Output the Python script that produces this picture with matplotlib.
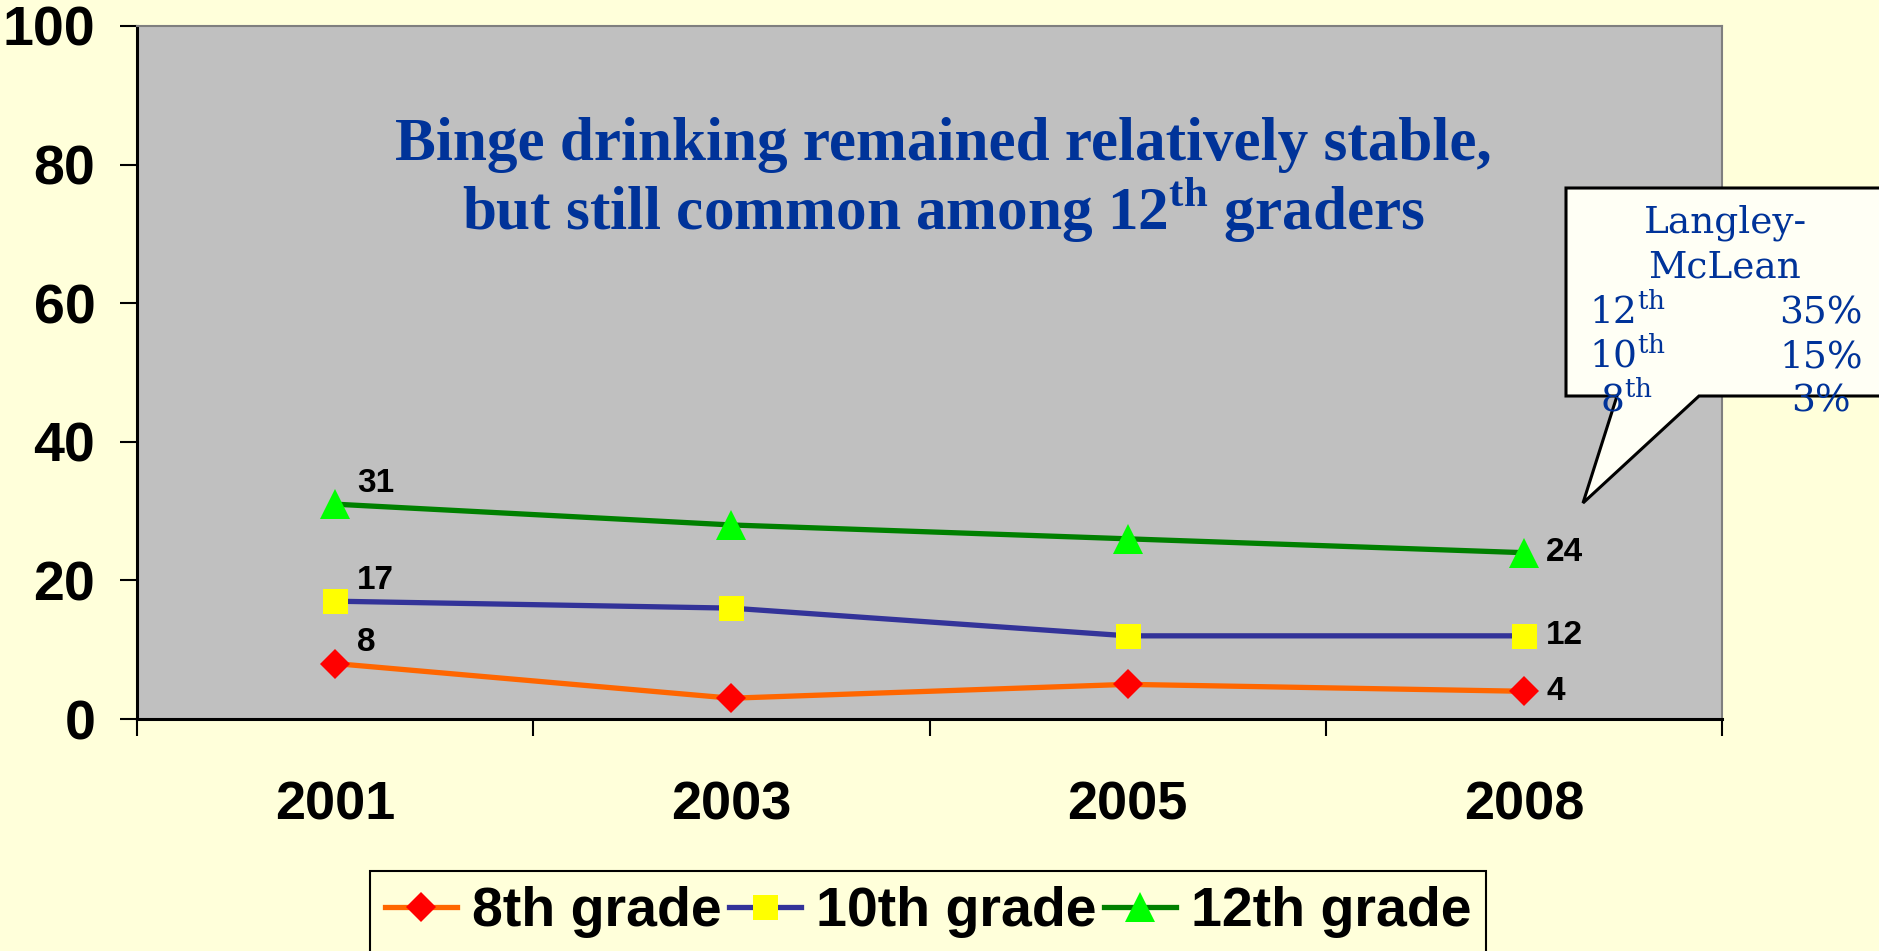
import matplotlib
matplotlib.use("Agg")
import matplotlib.pyplot as plt
from matplotlib.patches import Polygon

plt.rcParams["font.family"] = ["Liberation Sans", "DejaVu Sans"]
plt.rcParams["mathtext.fontset"] = "custom"
plt.rcParams["mathtext.rm"] = "DejaVu Serif"
plt.rcParams["mathtext.bf"] = "Liberation Serif:bold"

# ---- data ----
YEARS = ["2001", "2003", "2005", "2008"]
GRADE_8 = [8, 3, 5, 4]
GRADE_10 = [17, 16, 12, 12]
GRADE_12 = [31, 28, 26, 24]
SERIES_NAMES = ["8th grade", "10th grade", "12th grade"]

CALLOUT_GRADES = ["12$^{\\mathrm{th}}$", "10$^{\\mathrm{th}}$", "8$^{\\mathrm{th}}$"]
CALLOUT_PCT = ["35%", "15%", "3%"]

BG = "#FFFFDA"
PLOT_BG = "#C0C0C0"
BLUE_TXT = "#003399"
LINE_COLORS = ["#FF6600", "#333399", "#008000"]
MARKER_COLORS = ["#FF0000", "#FFFF00", "#00FF00"]
MARKERS = ["D", "s", "^"]
MSIZES = [15, 18, 22]

W, H = 1879, 951
fig = plt.figure(figsize=(W / 100, H / 100), dpi=100, facecolor=BG)
ax = fig.add_axes([137 / W, 1 - 719 / H, (1722 - 137) / W, (719 - 26) / H])
ax.set_facecolor(PLOT_BG)

x = [i + 0.5 for i in range(len(YEARS))]
for vals, name, lc, mc, m, ms in zip([GRADE_8, GRADE_10, GRADE_12], SERIES_NAMES,
                                     LINE_COLORS, MARKER_COLORS, MARKERS, MSIZES):
    ax.plot(x, vals, color=lc, lw=3.8, marker=m, markersize=ms,
            markerfacecolor=mc, markeredgewidth=0, label=name, zorder=3)
    # value labels only on first and last year
    ax.annotate(str(vals[0]), (x[0], vals[0]), xytext=(16, 4), textcoords="offset points",
                ha="left", va="bottom", fontsize=24, fontweight="bold")
    ax.annotate(str(vals[-1]), (x[-1], vals[-1]), xytext=(16, 0), textcoords="offset points",
                ha="left", va="center", fontsize=24, fontweight="bold")

ax.set_xlim(0, len(YEARS))
ax.set_ylim(0, 100)
ax.set_yticks(range(0, 101, 20))
ax.set_xticks(x)
ax.set_xticklabels(YEARS)
ax.set_xticks(range(len(YEARS) + 1), minor=True)
ax.tick_params(axis="y", direction="out", length=12, width=1.5, pad=18,
               labelsize=40)
ax.tick_params(axis="x", which="major", length=0, pad=44, labelsize=39)
ax.tick_params(axis="x", which="minor", direction="out", length=12, width=1.5)
for lab in ax.get_xticklabels() + ax.get_yticklabels():
    lab.set_fontweight("bold")

for s in ["left", "bottom"]:
    ax.spines[s].set_color("black")
    ax.spines[s].set_linewidth(2.2)
for s in ["top", "right"]:
    ax.spines[s].set_color("#7f7f7f")
    ax.spines[s].set_linewidth(1.5)

# title inside the plot
ax.text(0.509, 0.8066, "Binge drinking remained relatively stable,", transform=ax.transAxes,
        ha="center", va="baseline", fontsize=44, fontweight="bold", color=BLUE_TXT,
        family="Liberation Serif")
ax.text(0.509, 0.7060, "but still common among 12$^{\\mathbf{th}}$ graders", transform=ax.transAxes,
        ha="center", va="baseline", fontsize=44, fontweight="bold", color=BLUE_TXT,
        family="Liberation Serif")

leg = fig.legend(loc="upper center", bbox_to_anchor=(928 / W, 1 - 871 / H), ncol=3,
                 prop={"weight": "bold", "size": 40}, frameon=True,
                 fancybox=False, edgecolor="black", facecolor=BG, framealpha=1,
                 handlelength=1.3, handletextpad=0.26, columnspacing=0.14,
                 borderpad=0.27, borderaxespad=0)
leg.get_frame().set_linewidth(1.5)


# callout bubble (figure pixel coords)
def fp(px, py):
    return (px / W, 1 - py / H)


bubble = [fp(1566, 188), fp(1900, 188), fp(1900, 396), fp(1699, 396),
          fp(1583, 503), fp(1617, 396), fp(1566, 396)]
fig.add_artist(Polygon(bubble, closed=True, transform=fig.transFigure,
                       facecolor="#FFFFF5", edgecolor="black", lw=2.2, zorder=5))
fig.text(*fp(1725, 223), "Langley-", ha="center", va="center", fontsize=27,
         color=BLUE_TXT, family="DejaVu Serif", zorder=6)
fig.text(*fp(1725, 267), "McLean", ha="center", va="center", fontsize=27,
         color=BLUE_TXT, family="DejaVu Serif", zorder=6)
for i, (g, p) in enumerate(zip(CALLOUT_GRADES, CALLOUT_PCT)):
    yy = 313 + i * 44
    fig.text(*fp(1627, yy), g, ha="center", va="center", fontsize=27,
             color=BLUE_TXT, family="DejaVu Serif", zorder=6)
    fig.text(*fp(1821, yy), p, ha="center", va="center", fontsize=27,
             color=BLUE_TXT, family="DejaVu Serif", zorder=6)

fig.savefig("out.png", dpi=100, facecolor=BG)
